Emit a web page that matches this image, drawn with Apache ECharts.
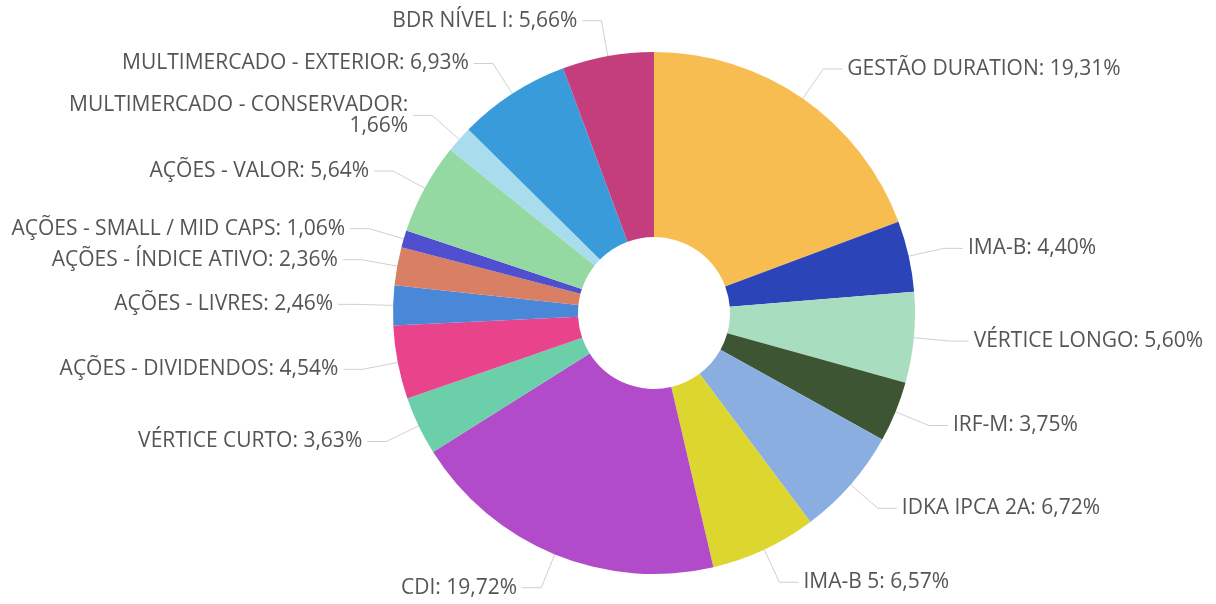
<!DOCTYPE html>
<html>
<head>
<meta charset="utf-8">
<script src="https://cdn.jsdelivr.net/npm/echarts@6/dist/echarts.min.js"></script>
<style>
  html, body { margin: 0; padding: 0; background: #fff; }
  #chart { width: 1216px; height: 604px; }
</style>
</head>
<body>
<div id="chart"></div>
<script>
// categories, clockwise from 12 o'clock
const categories = [
  "GESTÃO DURATION",
  "IMA-B",
  "VÉRTICE LONGO",
  "IRF-M",
  "IDKA IPCA 2A",
  "IMA-B 5",
  "CDI",
  "VÉRTICE CURTO",
  "AÇÕES - DIVIDENDOS",
  "AÇÕES - LIVRES",
  "AÇÕES - ÍNDICE ATIVO",
  "AÇÕES - SMALL / MID CAPS",
  "AÇÕES - VALOR",
  "MULTIMERCADO - CONSERVADOR",
  "MULTIMERCADO - EXTERIOR",
  "BDR NÍVEL I",
];
const shares = [
  19.31, 4.4, 5.6, 3.75, 6.72, 6.57, 19.72, 3.63,
  4.54, 2.46, 2.36, 1.06, 5.64, 1.66, 6.93, 5.66,
];
const colors = [
  "#f8bd50", "#2b45b9", "#a9ddbf", "#3d5532", "#8aaee0", "#ddd62f",
  "#b24bc9", "#6bcfa9", "#e8438b", "#4a87d9", "#d97f63", "#4f4fcf",
  "#95d9a2", "#a9dded", "#3a9bdb", "#c43e7d",
];

let chart = echarts.init(document.getElementById("chart"));

let option = {
  animation: false,
  color: colors,
  series: [
    {
      type: "pie",
      center: [654, 313],
      radius: [76, 261],
      startAngle: 90,
      clockwise: true,
      avoidLabelOverlap: true,
      label: {
        show: true,
        fontFamily: "Open Sans",
        fontSize: 21,
        color: "#555",
        formatter: (p) => {
          let v = p.value.toFixed(2).replace(".", ",") + "%";
          // this one wraps in the original
          if (p.name === "MULTIMERCADO - CONSERVADOR") return p.name + ":\n" + v;
          return p.name + ": " + v;
        },
      },
      labelLine: {
        length: 36,
        length2: 19,
        lineStyle: { color: "#cfcfcf", width: 1 },
      },
      data: categories.map((name, i) => ({ name: name, value: shares[i] })),
    },
  ],
};

chart.setOption(option);
</script>
</body>
</html>
